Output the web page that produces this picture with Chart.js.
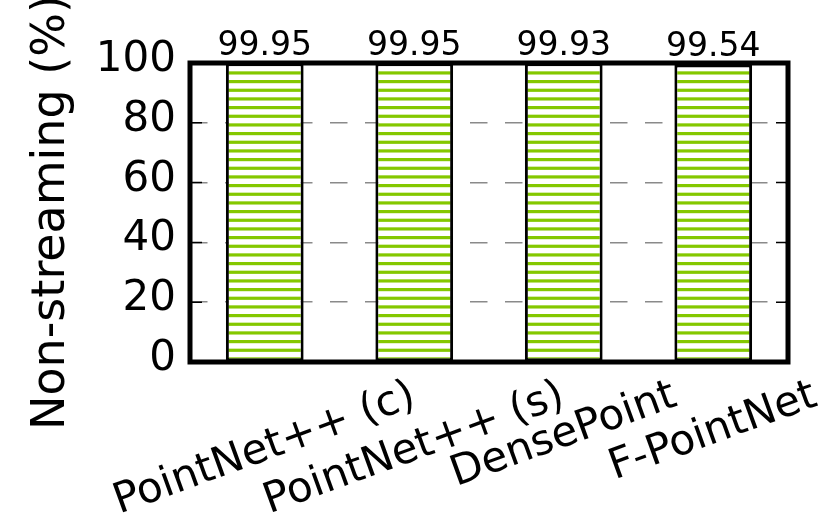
<!DOCTYPE html>
<html>
<head>
<meta charset="utf-8">
<script src="https://cdn.jsdelivr.net/npm/chart.js@4"></script>
<style>
  html, body { margin: 0; padding: 0; background: #fff; }
</style>
</head>
<body>
<canvas id="chartStreaming" width="830" height="519"></canvas>
<script>
// data
var categories = ["PointNet++ (c)", "PointNet++ (s)", "DensePoint", "F-PointNet"];
var nonStreaming = [99.95, 99.95, 99.93, 99.54];
var valueLabels = ["99.95", "99.95", "99.93", "99.54"];
var yTicks = [0, 20, 40, 60, 80, 100];

var FONT = "'DejaVu Sans', 'Liberation Sans', sans-serif";

var canvas = document.getElementById("chartStreaming");
var ctx = canvas.getContext("2d");

// horizontal green hatch, white background
function makeHatch() {
  var c = document.createElement("canvas");
  c.width = 8;
  c.height = 26;
  var g = c.getContext("2d");
  g.fillStyle = "#fff";
  g.fillRect(0, 0, 8, 26);
  g.fillStyle = "#84c800";
  for (var k = 0; k < 3; k++) {
    g.fillRect(0, 2.0 + k * 26 / 3, 8, 3.2);
  }
  return ctx.createPattern(c, "repeat");
}

// frame, inward ticks, value labels and rotated category labels
var decorations = {
  id: "decorations",
  afterDatasetsDraw: function(chart) {
    var c = chart.ctx;
    var area = chart.chartArea;
    var xs = chart.scales.x;
    var ys = chart.scales.y;
    c.save();

    c.strokeStyle = "#000";
    c.lineWidth = 1.5;
    yTicks.forEach(function(v) {
      var py = ys.getPixelForValue(v);
      c.beginPath();
      c.moveTo(area.left, py);
      c.lineTo(area.left + 12, py);
      c.moveTo(area.right, py);
      c.lineTo(area.right - 12, py);
      c.stroke();
    });

    c.lineWidth = 5;
    c.strokeRect(area.left, area.top, area.right - area.left, area.bottom - area.top);

    c.fillStyle = "#000";
    c.font = "33px " + FONT;
    c.textAlign = "center";
    c.textBaseline = "alphabetic";
    chart.getDatasetMeta(0).data.forEach(function(bar, i) {
      c.fillText(valueLabels[i], bar.x, bar.y - 8);
    });

    var size = 42;
    var ang = 20 * Math.PI / 180;
    c.font = size + "px " + FONT;
    c.textBaseline = "middle";
    categories.forEach(function(label, i) {
      var w = c.measureText(label).width;
      var boxH = w * Math.sin(ang) + size * 1.164 * Math.cos(ang);
      var cx = xs.getPixelForValue(i);
      var cy = area.bottom + 10 + boxH / 2;
      c.save();
      c.translate(cx, cy);
      c.rotate(-ang);
      c.fillText(label, 0, 0);
      c.restore();
    });

    c.restore();
  }
};

var data = {
  labels: categories,
  datasets: [
    {
      label: "Non-streaming",
      data: nonStreaming,
      backgroundColor: makeHatch(),
      borderColor: "#000",
      borderWidth: 3,
      borderSkipped: false,
      barPercentage: 0.52,
      categoryPercentage: 1.0
    }
  ]
};

var options = {
  responsive: false,
  animation: false,
  devicePixelRatio: 1,
  layout: { padding: { left: 0, right: 42, top: 63, bottom: 0 } },
  plugins: {
    legend: { display: false },
    tooltip: { enabled: false }
  },
  scales: {
    x: {
      type: "category",
      grid: { display: false },
      border: { display: false },
      ticks: { display: false },
      afterFit: function(s) { s.height = 157; }
    },
    y: {
      min: 0,
      max: 100,
      afterBuildTicks: function(axis) {
        axis.ticks = yTicks.map(function(v) { return { value: v }; });
      },
      grid: {
        color: "#8a8a8a",
        lineWidth: 1.5,
        drawTicks: false
      },
      border: { display: false, dash: [17.5, 17.5] },
      ticks: {
        color: "#000",
        font: { family: FONT, size: 42 },
        padding: 14,
        labelOffset: -3
      },
      title: {
        display: true,
        text: "Non-streaming (%)",
        color: "#000",
        font: { family: FONT, size: 46 },
        padding: { top: 24, bottom: 0 }
      },
      afterFit: function(s) { s.width = 190; }
    }
  }
};

var chartStreaming = new Chart(ctx, {
  type: "bar",
  data: data,
  options: options,
  plugins: [decorations]
});
</script>
</body>
</html>
